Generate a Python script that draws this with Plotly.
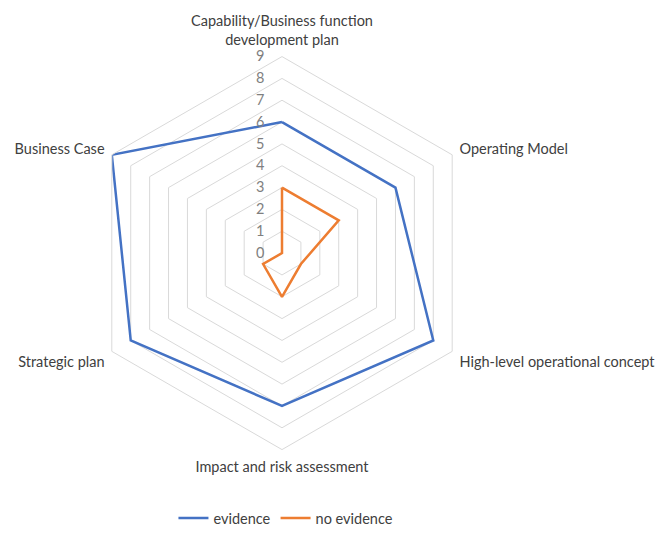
import plotly.graph_objects as go

categories = [
    "Capability/Business function<br>development plan",
    "Operating Model",
    "High-level operational concept",
    "Impact and risk assessment",
    "Strategic plan",
    "Business Case",
]
evidence = [6, 6, 8, 7, 8, 9]
no_evidence = [3, 3, 1, 2, 1, 0]
radial_ticks = [0, 1, 2, 3, 4, 5, 6, 7, 8, 9]

def closed(v):
    return list(v) + [v[0]]

fig = go.Figure()
fig.add_trace(go.Scatterpolar(
    r=closed(evidence), theta=closed(categories), mode="lines",
    name="evidence", line=dict(color="#4472C4", width=2.5)))
fig.add_trace(go.Scatterpolar(
    r=closed(no_evidence), theta=closed(categories), mode="lines",
    name="no evidence", line=dict(color="#ED7D31", width=2.5)))

fig.update_layout(
    width=665, height=534,
    margin=dict(l=0, r=0, t=0, b=0),
    paper_bgcolor="white",
    font=dict(family="Lato", size=14.5, color="#404040"),
    polar=dict(
        domain=dict(x=[84/665, 480/665], y=[1-453/534, 1-57/534]),
        bgcolor="white",
        gridshape="linear",
        radialaxis=dict(range=[0, 9], tickvals=radial_ticks, angle=90,
                        showline=False, gridcolor="#D9D9D9", gridwidth=1,
                        tickfont=dict(color="#7F7F7F", size=14.5),
                        ticks="outside", ticklen=12, tickcolor="rgba(0,0,0,0)",
                        side="counterclockwise", tickangle=90),
        angularaxis=dict(rotation=90, direction="clockwise", showgrid=False,
                         linecolor="#D9D9D9", linewidth=1,
                         ticks="outside", ticklen=5, tickcolor="rgba(0,0,0,0)",
                         tickfont=dict(color="#404040", size=14.5)),
    ),
    legend=dict(orientation="h", x=0.43, xanchor="center", y=-0.008, yanchor="bottom",
                font=dict(size=14.5, color="#404040")),
)

fig.write_html("out.html")
